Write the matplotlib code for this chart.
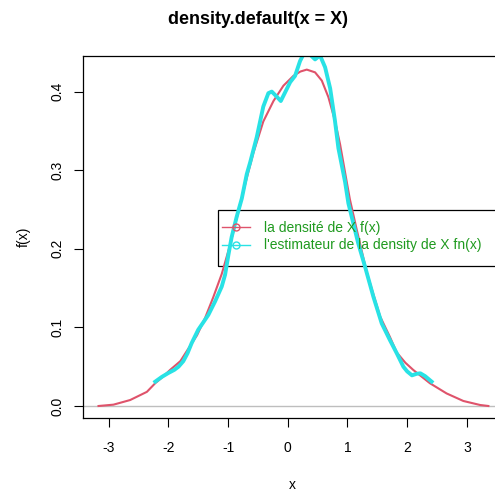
import matplotlib.pyplot as plt
from matplotlib.lines import Line2D
from matplotlib.patches import Rectangle

# densité théorique f(x) (courbe rouge)
x_f = [-3.17, -2.92, -2.64, -2.36, -2.22, -2.08, -1.97, -1.80, -1.665, -1.52,
       -1.385, -1.25, -1.106, -0.966, -0.827, -0.687, -0.576, -0.41, -0.24, -0.073,
       0.094, 0.21, 0.318, 0.457, 0.57, 0.68, 0.79, 0.876, 0.988, 1.04,
       1.156, 1.323, 1.546, 1.71, 1.826, 1.97, 2.10, 2.38, 2.66, 2.94,
       3.22, 3.36]
y_f = [0.0, 0.0017, 0.0076, 0.018, 0.029, 0.038, 0.046, 0.057, 0.073, 0.090,
       0.112, 0.138, 0.168, 0.205, 0.247, 0.290, 0.322, 0.362, 0.388, 0.4075,
       0.420, 0.4255, 0.428, 0.4245, 0.414, 0.393, 0.363, 0.333, 0.285, 0.263,
       0.224, 0.170, 0.114, 0.088, 0.068, 0.055, 0.046, 0.029, 0.016, 0.0064,
       0.0013, 0.0]

# estimateur fn(x) (courbe cyan)
x_fn = [-2.22, -2.11, -2.00, -1.90, -1.83, -1.75, -1.68, -1.61, -1.50, -1.41,
        -1.33, -1.218, -1.106, -1.05, -0.995, -0.94, -0.855, -0.77, -0.687, -0.63,
        -0.52, -0.41, -0.325, -0.268, -0.184, -0.117, -0.045, 0.04, 0.122, 0.206,
        0.26, 0.32, 0.373, 0.457, 0.54, 0.625, 0.71, 0.79, 0.848, 0.96,
        1.015, 1.18, 1.295, 1.434, 1.574, 1.71, 1.826, 1.936, 2.00, 2.08,
        2.16, 2.22, 2.30, 2.41]
y_fn = [0.031, 0.037, 0.042, 0.046, 0.050, 0.057, 0.067, 0.080, 0.097, 0.107,
        0.116, 0.133, 0.152, 0.167, 0.192, 0.215, 0.241, 0.264, 0.295, 0.310,
        0.342, 0.381, 0.398, 0.400, 0.3935, 0.388, 0.399, 0.412, 0.420, 0.439,
        0.447, 0.448, 0.447, 0.441, 0.446, 0.431, 0.404, 0.363, 0.328, 0.285,
        0.258, 0.207, 0.177, 0.139, 0.105, 0.084, 0.067, 0.050, 0.044, 0.039,
        0.041, 0.0416, 0.038, 0.031]

x_ticks = [-3, -2, -1, 0, 1, 2, 3]
y_ticks = [0.0, 0.1, 0.2, 0.3, 0.4]
labels = ["la densité de X f(x)", "l'estimateur de la density de X fn(x)"]

plt.rcParams['font.family'] = ['Liberation Sans', 'DejaVu Sans']
red = '#DF536B'
cyan = '#28E2E5'
green = '#1F9A1F'

W, H = 495, 492
fig = plt.figure(figsize=(W / 100, H / 100), dpi=100)
ax = fig.add_axes([83 / W, (H - 418) / H, 420.9 / W, 362 / H])
ax.set_xlim(-3.43, 3.62)
ax.set_ylim(-0.01527, 0.4453)

ax.axhline(0, color='#BEBEBE', lw=1)
ax.plot(x_f, y_f, color=red, lw=1.5, solid_joinstyle='round')
ax.plot(x_fn, y_fn, color=cyan, lw=2.8, solid_joinstyle='round')

ax.set_xticks(x_ticks)
ax.set_xticklabels([str(t) for t in x_ticks])
ax.set_yticks(y_ticks)
ax.set_yticklabels(['%.1f' % t for t in y_ticks], rotation=90, va='center')
ax.tick_params(direction='out', length=6.5, width=0.8, labelsize=10)
ax.tick_params(axis='x', pad=10)
ax.tick_params(axis='y', pad=7)
for s in ax.spines.values():
    s.set_linewidth(0.9)

fig.text(258 / W, 1 - 20 / H, 'density.default(x = X)', fontsize=13,
         fontweight='bold', ha='center', va='center')
fig.text(292 / W, 1 - 485 / H, 'x', fontsize=10, ha='center', va='center')
ax.set_ylabel('f(x)', fontsize=10, labelpad=14)

# cadre de la légende (dépasse à droite comme sur l'original)
ax.add_patch(Rectangle((135 / 420.9, 152 / 362), 1.0, 56 / 362, transform=ax.transAxes,
                       fill=False, ec='black', lw=0.9, clip_on=False))
handles = [Line2D([], [], color=red, lw=1, marker='o', mfc='none', ms=5),
           Line2D([], [], color=cyan, lw=1, marker='o', mfc='none', ms=5)]
leg = ax.legend(handles, labels, loc='upper left', frameon=False,
                bbox_to_anchor=(222 / W, (H - 221) / H), bbox_transform=fig.transFigure,
                borderpad=0, borderaxespad=0, handlelength=2.0, handletextpad=1.0,
                labelspacing=0.25, fontsize=10)
for t in leg.get_texts():
    t.set_color(green)

fig.savefig('out.png', dpi=100)
